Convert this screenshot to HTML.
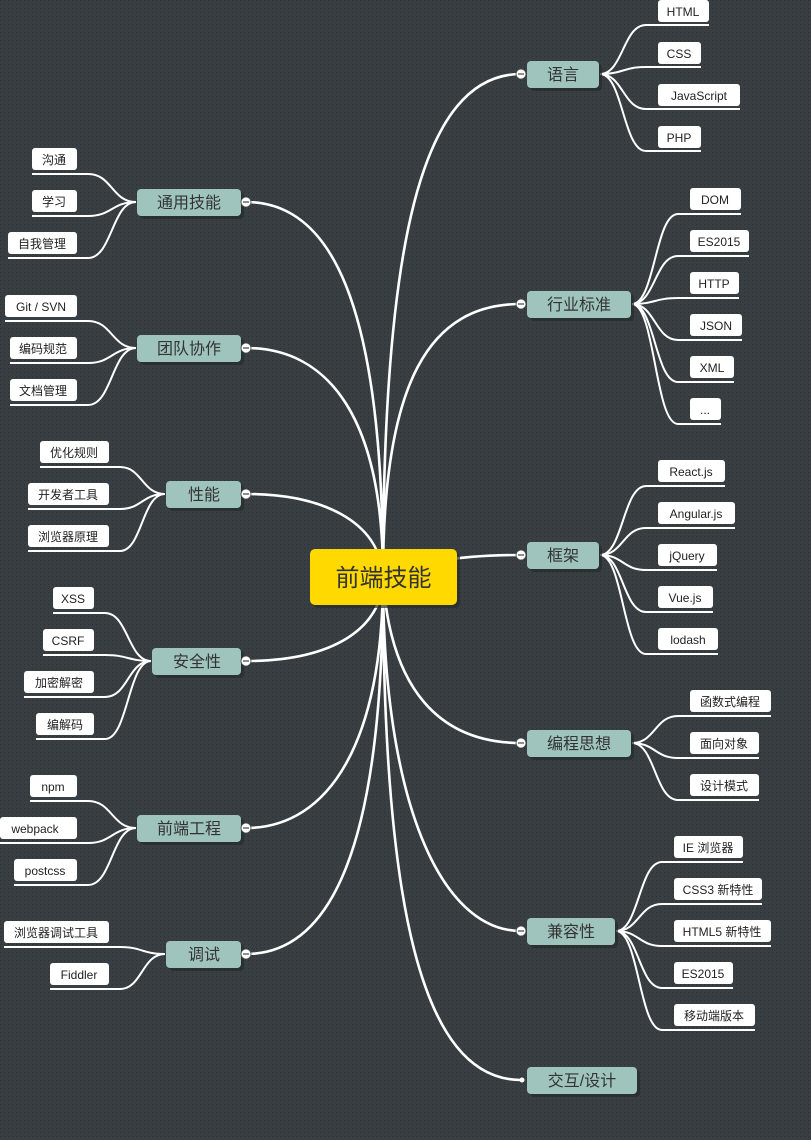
<!DOCTYPE html>
<html><head><meta charset="utf-8">
<style>
html,body{margin:0;padding:0;background:#353b3e;}
svg{display:block;}
text{font-family:"Liberation Sans","Noto Sans CJK SC",sans-serif;}
.lf{font-size:12px;fill:#222;}
.br{font-size:16px;fill:#333;}
</style></head><body>
<svg width="811" height="1140" viewBox="0 0 811 1140" xmlns="http://www.w3.org/2000/svg">
<defs>
<pattern id="dots" width="4" height="4" patternUnits="userSpaceOnUse"><rect width="4" height="4" fill="#383e41"/><rect x="0" y="0" width="1" height="1" fill="#2b3033"/></pattern>
</defs>
<rect width="811" height="1140" fill="url(#dots)"/>

<!-- main curves -->
<g fill="none" stroke="#fff" stroke-width="2.6">
<path d="M383,577 C383,250 420,74 521,74"/>
<path d="M383,577 C383,380 430,304 521,304"/>
<path d="M383,577 C420,560 470,555 521,555"/>
<path d="M383,577 C390,690 440,743 521,743"/>
<path d="M383,577 C383,800 440,931 521,931"/>
<path d="M383,577 C383,900 420,1080 521,1080"/>
<path d="M383,577 C383,300 330,202 246,202"/>
<path d="M383,577 C383,420 330,348 246,348"/>
<path d="M383,577 C380,520 320,494 246,494"/>
<path d="M383,577 C383,630 330,661 246,661"/>
<path d="M383,577 C383,740 330,828 246,828"/>
<path d="M383,577 C383,850 330,954 246,954"/>
</g>

<!-- leaf curves -->
<g fill="none" stroke="#fff" stroke-width="2">
<path d="M600,74 C623,74 623,25 646,25 H709"/>
<path d="M600,74 C623,74 623,67 646,67 H701"/>
<path d="M600,74 C623,74 623,109 646,109 H740"/>
<path d="M600,74 C623,74 623,151 646,151 H701"/>

<path d="M632,304 C655,304 655,214 678,214 H741"/>
<path d="M632,304 C655,304 655,256 678,256 H749"/>
<path d="M632,304 C655,304 655,298 678,298 H739"/>
<path d="M632,304 C655,304 655,340 678,340 H742"/>
<path d="M632,304 C655,304 655,382 678,382 H734"/>
<path d="M632,304 C655,304 655,424 678,424 H721"/>

<path d="M600,555 C623,555 623,486 646,486 H725"/>
<path d="M600,555 C623,555 623,528 646,528 H735"/>
<path d="M600,555 C623,555 623,570 646,570 H717"/>
<path d="M600,555 C623,555 623,612 646,612 H713"/>
<path d="M600,555 C623,555 623,654 646,654 H718"/>

<path d="M632,743 C655,743 655,716 678,716 H771"/>
<path d="M632,743 C655,743 655,758 678,758 H759"/>
<path d="M632,743 C655,743 655,800 678,800 H759"/>

<path d="M616,931 C639,931 639,862 662,862 H743"/>
<path d="M616,931 C639,931 639,904 662,904 H762"/>
<path d="M616,931 C639,931 639,946 662,946 H771"/>
<path d="M616,931 C639,931 639,988 662,988 H733"/>
<path d="M616,931 C639,931 639,1030 662,1030 H755"/>

<path d="M136,202 C112,202 112,174 88,174 H32"/>
<path d="M136,202 C112,202 112,216 88,216 H32"/>
<path d="M136,202 C112,202 112,258 88,258 H8"/>

<path d="M136,348 C112,348 112,321 88,321 H5"/>
<path d="M136,348 C112,348 112,363 88,363 H10"/>
<path d="M136,348 C112,348 112,405 88,405 H10"/>

<path d="M165,494 C142,494 142,467 120,467 H40"/>
<path d="M165,494 C142,494 142,509 120,509 H28"/>
<path d="M165,494 C142,494 142,551 120,551 H28"/>

<path d="M151,661 C128,661 128,613 105,613 H53"/>
<path d="M151,661 C128,661 128,655 105,655 H43"/>
<path d="M151,661 C128,661 128,697 105,697 H24"/>
<path d="M151,661 C128,661 128,739 105,739 H36"/>

<path d="M136,828 C112,828 112,801 88,801 H30"/>
<path d="M136,828 C112,828 112,843 88,843 H0"/>
<path d="M136,828 C112,828 112,885 88,885 H14"/>

<path d="M165,954 C142,954 142,947 120,947 H4"/>
<path d="M165,954 C142,954 142,989 120,989 H50"/>
</g>

<!-- leaf boxes -->
<g fill="#fff">
<rect x="658" y="0" width="51" height="22" rx="3"/>
<rect x="658" y="42" width="43" height="22" rx="3"/>
<rect x="658" y="84" width="82" height="22" rx="3"/>
<rect x="658" y="126" width="43" height="22" rx="3"/>
<rect x="690" y="188" width="51" height="22" rx="3"/>
<rect x="690" y="230" width="59" height="22" rx="3"/>
<rect x="690" y="272" width="49" height="22" rx="3"/>
<rect x="690" y="314" width="52" height="22" rx="3"/>
<rect x="690" y="356" width="44" height="22" rx="3"/>
<rect x="690" y="398" width="31" height="22" rx="3"/>
<rect x="658" y="460" width="67" height="22" rx="3"/>
<rect x="658" y="502" width="77" height="22" rx="3"/>
<rect x="658" y="544" width="59" height="22" rx="3"/>
<rect x="658" y="586" width="55" height="22" rx="3"/>
<rect x="658" y="628" width="60" height="22" rx="3"/>
<rect x="690" y="690" width="81" height="22" rx="3"/>
<rect x="690" y="732" width="69" height="22" rx="3"/>
<rect x="690" y="774" width="69" height="22" rx="3"/>
<rect x="674" y="836" width="69" height="22" rx="3"/>
<rect x="674" y="878" width="88" height="22" rx="3"/>
<rect x="674" y="920" width="97" height="22" rx="3"/>
<rect x="674" y="962" width="59" height="22" rx="3"/>
<rect x="674" y="1004" width="81" height="22" rx="3"/>

<rect x="32" y="148" width="45" height="22" rx="3"/>
<rect x="32" y="190" width="45" height="22" rx="3"/>
<rect x="8" y="232" width="69" height="22" rx="3"/>
<rect x="5" y="295" width="72" height="22" rx="3"/>
<rect x="10" y="337" width="67" height="22" rx="3"/>
<rect x="10" y="379" width="67" height="22" rx="3"/>
<rect x="40" y="441" width="69" height="22" rx="3"/>
<rect x="28" y="483" width="81" height="22" rx="3"/>
<rect x="28" y="525" width="81" height="22" rx="3"/>
<rect x="53" y="587" width="41" height="22" rx="3"/>
<rect x="43" y="629" width="51" height="22" rx="3"/>
<rect x="24" y="671" width="70" height="22" rx="3"/>
<rect x="36" y="713" width="58" height="22" rx="3"/>
<rect x="30" y="775" width="47" height="22" rx="3"/>
<rect x="0" y="817" width="77" height="22" rx="3"/>
<rect x="14" y="859" width="63" height="22" rx="3"/>
<rect x="4" y="921" width="105" height="22" rx="3"/>
<rect x="50" y="963" width="59" height="22" rx="3"/>
</g>

<g class="lf" text-anchor="middle">
<text x="683" y="16">HTML</text>
<text x="679" y="58">CSS</text>
<text x="699" y="100">JavaScript</text>
<text x="679" y="142">PHP</text>
<text x="715" y="204">DOM</text>
<text x="719" y="246">ES2015</text>
<text x="714" y="288">HTTP</text>
<text x="716" y="330">JSON</text>
<text x="712" y="372">XML</text>
<text x="705" y="414">...</text>
<text x="691" y="476">React.js</text>
<text x="696" y="518">Angular.js</text>
<text x="687" y="560">jQuery</text>
<text x="685" y="602">Vue.js</text>
<text x="688" y="644">lodash</text>
<text x="730" y="706">函数式编程</text>
<text x="724" y="748">面向对象</text>
<text x="724" y="790">设计模式</text>
<text x="708" y="852">IE 浏览器</text>
<text x="718" y="894">CSS3 新特性</text>
<text x="722" y="936">HTML5 新特性</text>
<text x="703" y="978">ES2015</text>
<text x="714" y="1020">移动端版本</text>

<text x="54" y="164">沟通</text>
<text x="54" y="206">学习</text>
<text x="42" y="248">自我管理</text>
<text x="41" y="311">Git / SVN</text>
<text x="43" y="353">编码规范</text>
<text x="43" y="395">文档管理</text>
<text x="74" y="457">优化规则</text>
<text x="68" y="499">开发者工具</text>
<text x="68" y="541">浏览器原理</text>
<text x="73" y="603">XSS</text>
<text x="68" y="645">CSRF</text>
<text x="59" y="687">加密解密</text>
<text x="65" y="729">编解码</text>
<text x="53" y="791">npm</text>
<text x="35" y="833">webpack</text>
<text x="45" y="875">postcss</text>
<text x="56" y="937">浏览器调试工具</text>
<text x="79" y="979">Fiddler</text>
</g>

<!-- branch nodes -->
<g fill="#262b2d" opacity="0.7">
<rect x="530" y="64" width="72" height="27" rx="4"/>
<rect x="530" y="294" width="104" height="27" rx="4"/>
<rect x="530" y="545" width="72" height="27" rx="4"/>
<rect x="530" y="733" width="104" height="27" rx="4"/>
<rect x="530" y="921" width="88" height="27" rx="4"/>
<rect x="530" y="1070" width="110" height="27" rx="4"/>
<rect x="140" y="192" width="104" height="27" rx="4"/>
<rect x="140" y="338" width="104" height="27" rx="4"/>
<rect x="169" y="484" width="75" height="27" rx="4"/>
<rect x="155" y="651" width="89" height="27" rx="4"/>
<rect x="140" y="818" width="104" height="27" rx="4"/>
<rect x="169" y="944" width="75" height="27" rx="4"/>
<rect x="313" y="552" width="147" height="56" rx="5"/>
</g>
<g fill="#9fc4bd">
<rect x="527" y="61" width="72" height="27" rx="4"/>
<rect x="527" y="291" width="104" height="27" rx="4"/>
<rect x="527" y="542" width="72" height="27" rx="4"/>
<rect x="527" y="730" width="104" height="27" rx="4"/>
<rect x="527" y="918" width="88" height="27" rx="4"/>
<rect x="527" y="1067" width="110" height="27" rx="4"/>
<rect x="137" y="189" width="104" height="27" rx="4"/>
<rect x="137" y="335" width="104" height="27" rx="4"/>
<rect x="166" y="481" width="75" height="27" rx="4"/>
<rect x="152" y="648" width="89" height="27" rx="4"/>
<rect x="137" y="815" width="104" height="27" rx="4"/>
<rect x="166" y="941" width="75" height="27" rx="4"/>
</g>
<g class="br" text-anchor="middle">
<text x="563" y="80">语言</text>
<text x="579" y="310">行业标准</text>
<text x="563" y="561">框架</text>
<text x="579" y="749">编程思想</text>
<text x="571" y="937">兼容性</text>
<text x="582" y="1086">交互/设计</text>
<text x="189" y="208">通用技能</text>
<text x="189" y="354">团队协作</text>
<text x="204" y="500">性能</text>
<text x="197" y="667">安全性</text>
<text x="189" y="834">前端工程</text>
<text x="204" y="960">调试</text>
</g>

<!-- collapse circles -->
<g fill="#fff" stroke="#444" stroke-width="0.8">
<circle cx="521" cy="74" r="5"/>
<circle cx="521" cy="304" r="5"/>
<circle cx="521" cy="555" r="5"/>
<circle cx="521" cy="743" r="5"/>
<circle cx="521" cy="931" r="5"/>
<circle cx="246" cy="202" r="5"/>
<circle cx="246" cy="348" r="5"/>
<circle cx="246" cy="494" r="5"/>
<circle cx="246" cy="661" r="5"/>
<circle cx="246" cy="828" r="5"/>
<circle cx="246" cy="954" r="5"/>
</g>
<g stroke="#444" stroke-width="1.2">
<line x1="518" y1="74" x2="524" y2="74"/><line x1="518" y1="304" x2="524" y2="304"/>
<line x1="518" y1="555" x2="524" y2="555"/><line x1="518" y1="743" x2="524" y2="743"/>
<line x1="518" y1="931" x2="524" y2="931"/>
<line x1="243" y1="202" x2="249" y2="202"/><line x1="243" y1="348" x2="249" y2="348"/>
<line x1="243" y1="494" x2="249" y2="494"/><line x1="243" y1="661" x2="249" y2="661"/>
<line x1="243" y1="828" x2="249" y2="828"/><line x1="243" y1="954" x2="249" y2="954"/>
</g>
<circle cx="522" cy="1080" r="2.5" fill="#fff"/>

<!-- center -->
<rect x="310" y="549" width="147" height="56" rx="5" fill="#ffd900"/>
<text x="383.5" y="586" text-anchor="middle" font-size="24" fill="#333">前端技能</text>
</svg>
</body></html>
